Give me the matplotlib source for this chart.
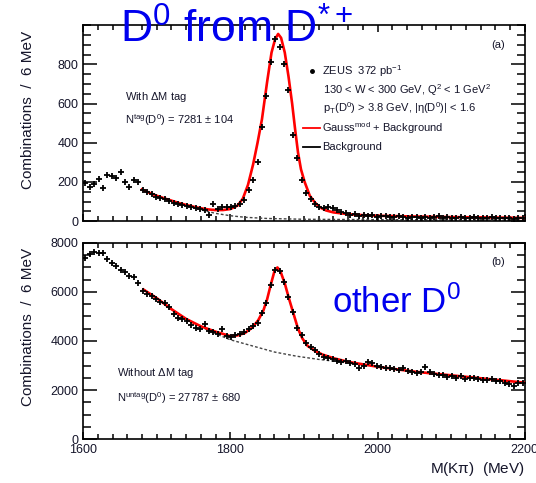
import numpy as np
import matplotlib
matplotlib.use("Agg")
import matplotlib.pyplot as plt
from matplotlib.ticker import MultipleLocator

plt.rcParams['font.family'] = ['Liberation Sans', 'DejaVu Sans']
plt.rcParams['mathtext.fontset'] = 'custom'
plt.rcParams['mathtext.rm'] = 'Liberation Sans'
plt.rcParams['mathtext.it'] = 'Liberation Sans:italic'
plt.rcParams['mathtext.default'] = 'regular'

# bin centres, 6 MeV bins
mass = np.arange(1603, 2200, 6)

# (a) with Delta M tag
tag_counts = [195, 175, 190, 215, 170, 235, 230, 220, 250, 200,
              175, 210, 200, 160, 150, 140, 125, 120, 115, 105,
              95, 90, 85, 80, 70, 65, 60, 55, 30, 90,
              60, 70, 70, 75, 80, 90, 107, 158, 210, 300,
              480, 640, 810, 930, 890, 800, 668, 440, 320, 209,
              145, 115, 90, 75, 65, 72, 66, 55, 45, 40,
              33, 36, 28, 30, 26, 30, 24, 25, 28, 22,
              20, 25, 22, 18, 20, 24, 17, 20, 15, 22,
              25, 18, 20, 16, 18, 22, 15, 17, 20, 14,
              18, 16, 20, 14, 17, 15, 18, 13, 16, 15]

tag_fit_m = [1680, 1690, 1700, 1710, 1720, 1730, 1740, 1750, 1760, 1770,
             1780, 1790, 1800, 1810, 1817, 1824, 1831, 1837, 1843, 1850,
             1856, 1861, 1865, 1869, 1874, 1879, 1884, 1888, 1892, 1896,
             1901, 1908, 1915, 1922, 1930, 1940, 1960, 1980, 2000, 2050,
             2100, 2150, 2200]
tag_fit = [162, 145, 130, 117, 105, 93, 83, 74, 66, 60,
           57, 57, 62, 80, 115, 185, 290, 400, 520, 710,
           860, 930, 955, 935, 860, 740, 600, 470, 350, 265,
           200, 130, 95, 70, 55, 45, 36, 31, 28, 24,
           21, 19, 17]

tag_bg_m = [1680, 1700, 1720, 1740, 1760, 1780, 1800, 1820, 1850, 1900, 2000, 2100, 2200]
tag_bg = [160, 130, 105, 80, 58, 40, 28, 20, 14, 10, 8, 7, 6]

# (b) without Delta M tag
untag_counts = [7400, 7550, 7650, 7580, 7600, 7350, 7200, 7050, 6900, 6820,
                6650, 6600, 6350, 6050, 5900, 5850, 5700, 5600, 5550, 5400,
                5100, 4950, 4900, 4800, 4650, 4550, 4500, 4700, 4400, 4350,
                4300, 4500, 4200, 4180, 4250, 4300, 4350, 4500, 4620, 4750,
                5150, 5550, 6300, 6900, 6850, 6400, 5800, 5200, 4550, 4250,
                3900, 3750, 3630, 3450, 3360, 3300, 3250, 3200, 3150, 3200,
                3100, 3050, 2900, 3000, 3150, 3100, 3000, 2950, 2900, 2880,
                2850, 2800, 2880, 2780, 2720, 2700, 2750, 2950, 2720, 2650,
                2600, 2620, 2550, 2580, 2500, 2560, 2450, 2500, 2480, 2450,
                2420, 2400, 2430, 2380, 2350, 2300, 2250, 2150, 2280, 2300]

untag_fit_m = [1682, 1700, 1720, 1740, 1760, 1780, 1800, 1810, 1820, 1830,
               1838, 1845, 1850, 1855, 1860, 1864, 1868, 1874, 1880, 1886,
               1892, 1898, 1905, 1915, 1925, 1940, 1960, 1980, 2000, 2050,
               2100, 2150, 2200]
untag_fit = [6100, 5750, 5300, 4900, 4600, 4380, 4200, 4230, 4330, 4550,
             4850, 5250, 5700, 6300, 6850, 7000, 6850, 6350, 5700, 5100,
             4500, 4100, 3800, 3600, 3450, 3300, 3150, 3050, 2950, 2750,
             2600, 2450, 2300]

untag_bg_m = [1682, 1700, 1720, 1740, 1760, 1780, 1800, 1830, 1860, 1890,
              1920, 1940, 1960, 1980, 2000, 2050, 2100, 2150, 2200]
untag_bg = [6100, 5750, 5300, 4900, 4580, 4300, 4050, 3800, 3550, 3380,
            3250, 3180, 3100, 3030, 2950, 2750, 2600, 2450, 2300]

txt = '#15152a'
fig = plt.figure(figsize=(5.36, 4.83), dpi=100)
ax1 = fig.add_axes([0.155, 0.542, 0.824, 0.406])
ax2 = fig.add_axes([0.155, 0.091, 0.824, 0.406])


def style(ax, ymax, ymaj, ymin):
    ax.set_xlim(1600, 2200)
    ax.set_ylim(0, ymax)
    ax.xaxis.set_major_locator(MultipleLocator(200))
    ax.xaxis.set_minor_locator(MultipleLocator(20))
    ax.yaxis.set_major_locator(MultipleLocator(ymaj))
    ax.yaxis.set_minor_locator(MultipleLocator(ymin))
    ax.tick_params(which='both', direction='in', top=True, right=True,
                   labelsize=9, labelcolor=txt, width=1.1)
    ax.tick_params(axis='y', which='major', length=10)
    ax.tick_params(axis='y', which='minor', length=5.5)
    ax.tick_params(axis='x', which='major', length=5)
    ax.tick_params(axis='x', which='minor', length=3.5)
    for s in ax.spines.values():
        s.set_linewidth(1.2)


for ax, cnt, fm, fv, bm, bv in [(ax1, tag_counts, tag_fit_m, tag_fit, tag_bg_m, tag_bg),
                                (ax2, untag_counts, untag_fit_m, untag_fit, untag_bg_m, untag_bg)]:
    ax.plot(bm, bv, color='#444444', lw=1.0, ls=(0, (2, 1.5)), zorder=2)
    ax.plot(fm, fv, color='red', lw=1.9, zorder=3)
    ax.plot(mass, cnt, ls='none', marker='+', ms=5, mew=1.3, color='black', zorder=4)

style(ax1, 1000, 200, 50)
style(ax2, 8000, 2000, 500)
ax1.set_yticks([0, 200, 400, 600, 800])
ax1.set_xticklabels([])

# top panel texts
ax1.text(0.095, 0.633, r'With $\Delta$M tag', transform=ax1.transAxes, fontsize=8,
         color=txt, va='center')
ax1.text(0.095, 0.515, r'N$^{tag}$(D$^0$) = 7281 $\pm$ 104', transform=ax1.transAxes,
         fontsize=8, color=txt, va='center')
ax1.text(0.94, 0.898, '(a)', transform=ax1.transAxes, fontsize=8, color=txt,
         ha='center', va='center')
ax1.plot([0.518], [0.765], marker='o', ms=2.5, color='black', transform=ax1.transAxes)
ax1.text(0.541, 0.765, r'ZEUS  372 pb$^{-1}$', transform=ax1.transAxes, fontsize=8,
         color=txt, va='center')
ax1.text(0.543, 0.668, r'130 < W < 300 GeV, Q$^2$ < 1 GeV$^2$', transform=ax1.transAxes,
         fontsize=8, color=txt, va='center')
ax1.text(0.543, 0.577, r'p$_T$(D$^0$) > 3.8 GeV, |$\eta$(D$^0$)| < 1.6',
         transform=ax1.transAxes, fontsize=8, color=txt, va='center')
ax1.plot([0.498, 0.536], [0.474, 0.474], color='red', lw=1.3, transform=ax1.transAxes)
ax1.text(0.541, 0.474, r'Gauss$^{mod}$ + Background', transform=ax1.transAxes,
         fontsize=8, color=txt, va='center')
ax1.plot([0.498, 0.536], [0.378, 0.378], color='black', lw=1.3, transform=ax1.transAxes)
ax1.text(0.541, 0.378, 'Background', transform=ax1.transAxes, fontsize=8,
         color=txt, va='center')

# bottom panel texts
ax2.text(0.077, 0.337, r'Without $\Delta$M tag', transform=ax2.transAxes, fontsize=8,
         color=txt, va='center')
ax2.text(0.077, 0.209, r'N$^{untag}$(D$^0$) = 27787 $\pm$ 680', transform=ax2.transAxes,
         fontsize=8, color=txt, va='center')
ax2.text(0.94, 0.903, '(b)', transform=ax2.transAxes, fontsize=8, color=txt,
         ha='center', va='center')
ax2.text(0.619, 0.352, r'other D$^0$', transform=fig.transFigure, fontsize=25,
         color='#0000ee', va='baseline', zorder=6)

fig.text(0.052, 0.772, 'Combinations  /  6 MeV', rotation=90, fontsize=11,
         color=txt, ha='center', va='center')
fig.text(0.052, 0.323, 'Combinations  /  6 MeV', rotation=90, fontsize=11,
         color=txt, ha='center', va='center')
fig.text(0.979, 0.030, r'M(K$\pi$)  (MeV)', fontsize=11, color=txt, ha='right',
         va='center')

fig.text(0.224, 0.911, r'D$^0$ from D$^{*+}$', fontsize=32, color='#0000ee',
         va='baseline', zorder=10)

fig.savefig('out.png', dpi=100)
